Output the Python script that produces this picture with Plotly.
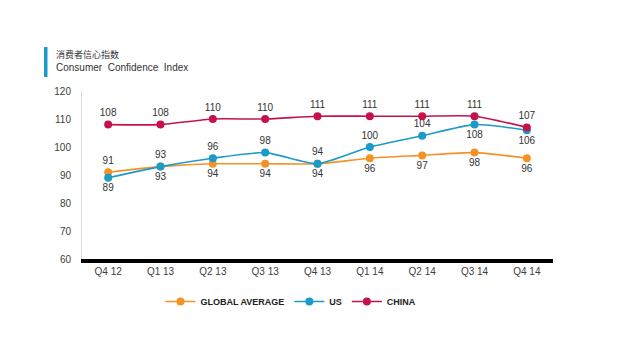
import plotly.graph_objects as go

quarters = ["Q4 12", "Q1 13", "Q2 13", "Q3 13", "Q4 13", "Q1 14", "Q2 14", "Q3 14", "Q4 14"]
global_avg = [91, 93, 94, 94, 94, 96, 97, 98, 96]
us = [89, 93, 96, 98, 94, 100, 104, 108, 106]
china = [108, 108, 110, 110, 111, 111, 111, 111, 107]

global_pos = ["top center"] + ["bottom center"] * 8
us_pos = ["bottom center", "top center", "top center", "top center", "top center",
          "top center", "top center", "bottom center", "bottom center"]
china_pos = ["top center"] * 9

FONT = "Liberation Sans, Arial, sans-serif"

fig = go.Figure()

def add(name, y, color, pos):
    fig.add_trace(go.Scatter(
        x=quarters, y=y, name=name, mode="lines+markers+text",
        line=dict(color=color, width=1.6, shape="spline", smoothing=0.6),
        marker=dict(color=color, size=8),
        text=[str(v) for v in y], textposition=pos,
        textfont=dict(size=10, color="#333333", family=FONT),
        cliponaxis=False,
    ))

add("<b>GLOBAL AVERAGE</b>", global_avg, "#F39325", global_pos)
add("<b>US</b>", us, "#1C9AC8", us_pos)
add("<b>CHINA</b>", china, "#C4134C", china_pos)

# page body has an 8px margin; figure coordinates = screen - 8
L, T, PW, PH = 74, 83, 471, 168

def px(x):
    return (x - L) / PW

def py(y):
    return (T + PH - y) / PH

fig.update_layout(
    width=632, height=348,
    margin=dict(l=L, r=632 - L - PW, t=T, b=348 - T - PH),
    paper_bgcolor="white", plot_bgcolor="white",
    font=dict(family=FONT, size=9, color="#404040"),
    showlegend=True,
    legend=dict(orientation="h", x=px(283), xanchor="center", y=py(279), yanchor="top",
                font=dict(size=9, color="#222222", family=FONT), itemwidth=30,
                traceorder="normal"),
    xaxis=dict(type="category", range=[-0.5, 8.5], showgrid=False,
               showline=True, linecolor="black", linewidth=4,
               ticks="", tickfont=dict(size=10, color="#404040"), ticklabelstandoff=0),
    yaxis=dict(range=[60, 120], dtick=10, showgrid=False,
               showline=True, linecolor="#D9D9D9", linewidth=1,
               ticks="", tickfont=dict(size=10, color="#404040"), zeroline=False,
               ticklabelstandoff=8),
    shapes=[dict(type="rect", xref="paper", yref="paper",
                 x0=px(36), x1=px(39.5), y0=py(39), y1=py(69),
                 fillcolor="#1A9BC6", line=dict(width=0))],
    annotations=[
        dict(text="消费者信心指数", xref="paper", yref="paper",
             x=px(46), y=py(38), xanchor="left", yanchor="top", showarrow=False,
             font=dict(size=9, color="#333333", family="Noto Sans CJK SC")),
        dict(text="Consumer  Confidence  Index", xref="paper", yref="paper",
             x=px(46), y=py(52), xanchor="left", yanchor="top", showarrow=False,
             font=dict(size=10, color="#333333", family=FONT)),
    ],
)

fig.write_html("out.html")
